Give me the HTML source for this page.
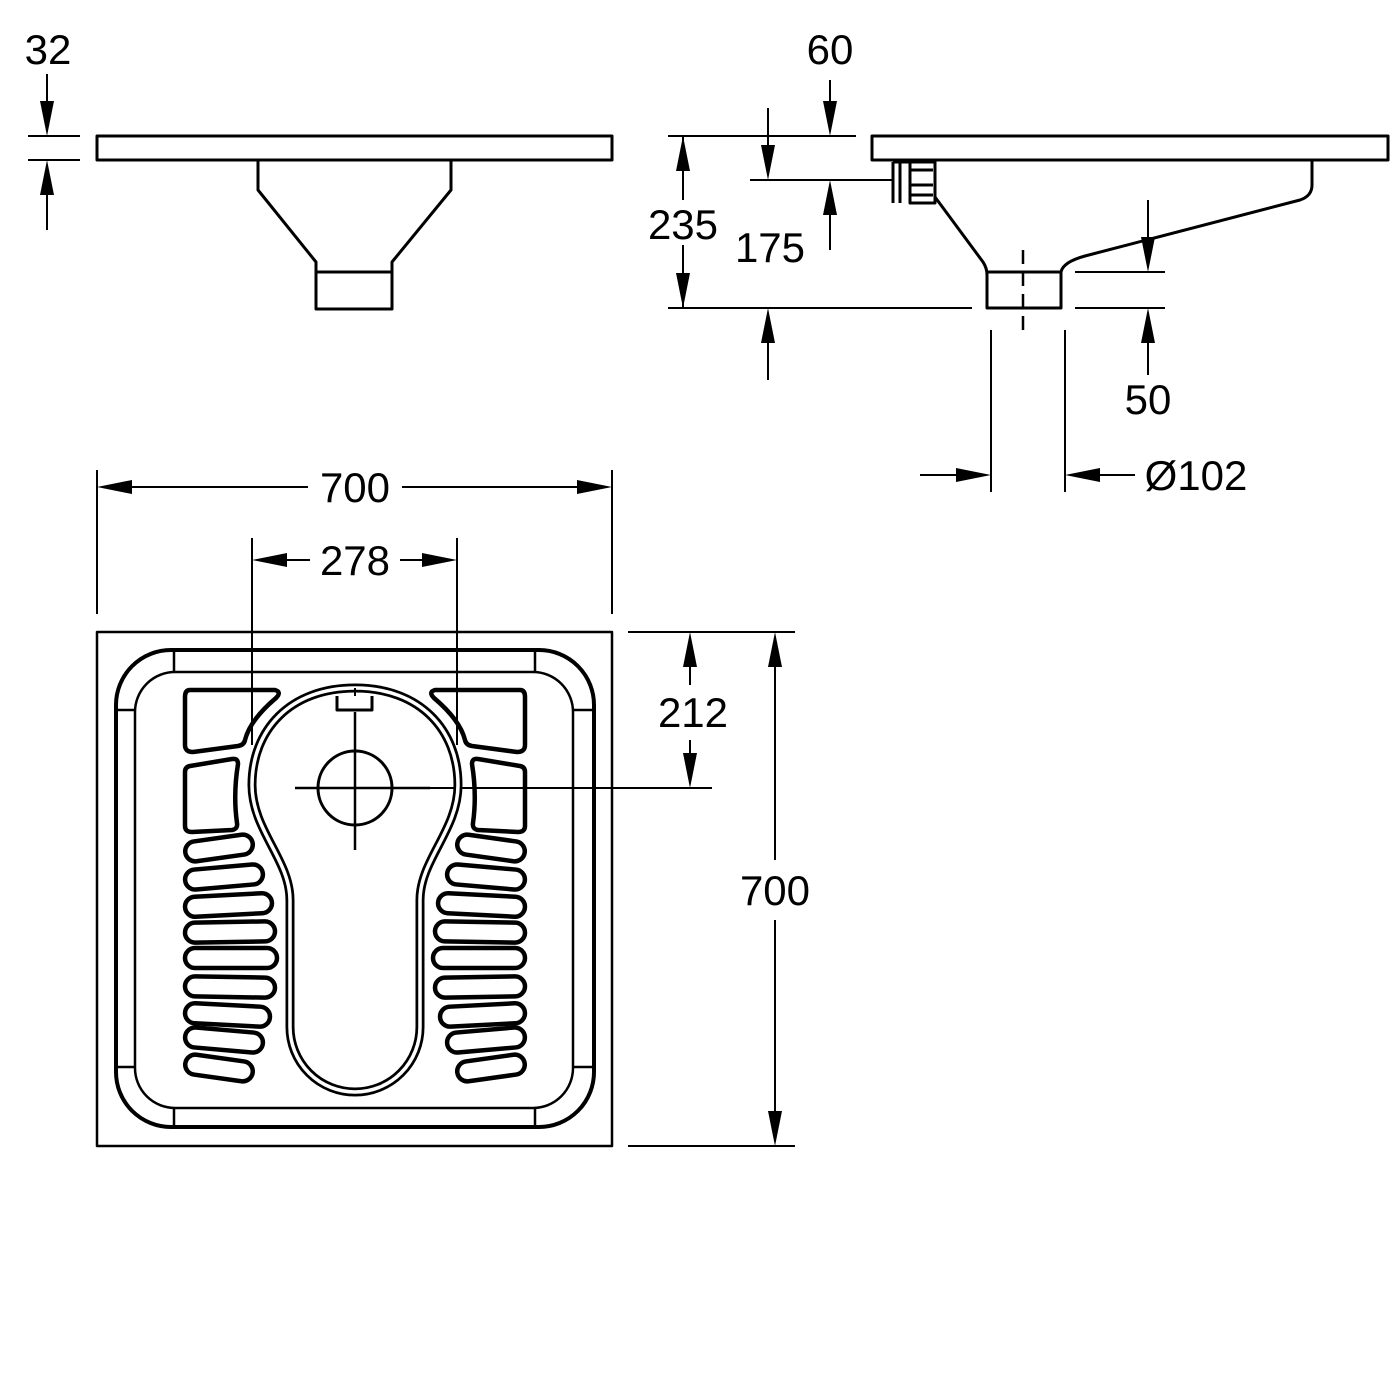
<!DOCTYPE html>
<html><head><meta charset="utf-8"><style>
html,body{margin:0;padding:0;background:#fff}
svg{display:block}
text{font-family:"Liberation Sans",sans-serif;font-size:42px;fill:#000}
</style></head><body>
<svg width="1400" height="1400" viewBox="0 0 1400 1400" xmlns="http://www.w3.org/2000/svg">
<g fill="none" stroke="#000" stroke-width="3" stroke-linejoin="round">
<!-- top-left view -->
<rect x="97" y="136" width="515" height="24"/>
<path d="M258 161 V190 L316 262 V309 H392 V262 L451 190 V161"/>
<line x1="316" y1="272" x2="392" y2="272"/>
<!-- 32 dim -->
<line x1="28" y1="136" x2="80" y2="136" stroke-width="2"/>
<line x1="28" y1="160" x2="80" y2="160" stroke-width="2"/>
<line x1="47" y1="74" x2="47" y2="110" stroke-width="2"/>
<line x1="47" y1="190" x2="47" y2="230" stroke-width="2"/>

<!-- top-right view -->
<rect x="872" y="136" width="516" height="24"/>
<path d="M935 161 V197 L983 262 Q987 268 987 275 V308 H1061 V272 Q1063 262 1085 256 L1300 200 Q1312 196 1312 185 V161"/>
<line x1="987" y1="272" x2="1061" y2="272"/>
<path d="M893 162 V203 M900 162 V203 M910 162 V203 H935 V162 H893 M910 170 H933 M910 185 H933 M910 195 H933"/>
<line x1="1023" y1="250" x2="1023" y2="332" stroke-dasharray="14,8" stroke-width="2.5"/>
<!-- 235 / 60 / 175 dims -->
<line x1="668" y1="136" x2="856" y2="136" stroke-width="2"/>
<line x1="668" y1="308" x2="972" y2="308" stroke-width="2"/>
<line x1="683" y1="136" x2="683" y2="200" stroke-width="2"/>
<line x1="683" y1="245" x2="683" y2="308" stroke-width="2"/>
<line x1="830" y1="80" x2="830" y2="110" stroke-width="2"/>
<line x1="768" y1="108" x2="768" y2="150" stroke-width="2"/>
<line x1="750" y1="180" x2="893" y2="180" stroke-width="2"/>
<line x1="830" y1="210" x2="830" y2="250" stroke-width="2"/>
<line x1="768" y1="340" x2="768" y2="380" stroke-width="2"/>
<!-- 50 dims -->
<line x1="1075" y1="272" x2="1165" y2="272" stroke-width="2"/>
<line x1="1075" y1="308" x2="1165" y2="308" stroke-width="2"/>
<line x1="1148" y1="200" x2="1148" y2="240" stroke-width="2"/>
<line x1="1148" y1="340" x2="1148" y2="375" stroke-width="2"/>
<!-- Ø102 -->
<line x1="991" y1="330" x2="991" y2="492" stroke-width="2"/>
<line x1="1065" y1="330" x2="1065" y2="492" stroke-width="2"/>
<line x1="920" y1="475" x2="960" y2="475" stroke-width="2"/>
<line x1="1095" y1="475" x2="1135" y2="475" stroke-width="2"/>

<!-- plan dims -->
<line x1="97" y1="470" x2="97" y2="614" stroke-width="2"/>
<line x1="612" y1="470" x2="612" y2="614" stroke-width="2"/>
<line x1="130" y1="487" x2="308" y2="487" stroke-width="2"/>
<line x1="402" y1="487" x2="580" y2="487" stroke-width="2"/>
<line x1="252" y1="538" x2="252" y2="745" stroke-width="2"/>
<line x1="457" y1="538" x2="457" y2="745" stroke-width="2"/>
<line x1="285" y1="560" x2="310" y2="560" stroke-width="2"/>
<line x1="400" y1="560" x2="425" y2="560" stroke-width="2"/>
<line x1="628" y1="632" x2="795" y2="632" stroke-width="2"/>
<line x1="628" y1="1146" x2="795" y2="1146" stroke-width="2"/>
<line x1="430" y1="788" x2="712" y2="788" stroke-width="2"/>
<line x1="690" y1="665" x2="690" y2="685" stroke-width="2"/>
<line x1="690" y1="740" x2="690" y2="755" stroke-width="2"/>
<line x1="775" y1="665" x2="775" y2="860" stroke-width="2"/>
<line x1="775" y1="920" x2="775" y2="1112" stroke-width="2"/>

<!-- plan view -->
<rect x="97" y="632" width="515" height="514" stroke-width="2.5"/>
<rect x="116" y="650" width="478" height="477" rx="55" stroke-width="4"/>
<rect x="135" y="672" width="438" height="436" rx="40" stroke-width="2.5"/>
<path d="M174 652 V672 M535 652 V672 M174 1108 V1126 M535 1108 V1126 M118 710 H135 M573 710 H592 M118 1067 H135 M573 1067 H592" stroke-width="2.5"/>
<!-- keyhole double line -->
<path d="M355 688 C420 688 458 730 458 785 C458 830 420 860 420 900 V1027 A65 65 0 0 1 290 1027 V900 C290 860 252 830 252 785 C252 730 290 688 355 688 Z" stroke-width="9"/>
<path d="M355 688 C420 688 458 730 458 785 C458 830 420 860 420 900 V1027 A65 65 0 0 1 290 1027 V900 C290 860 252 830 252 785 C252 730 290 688 355 688 Z" stroke="#fff" stroke-width="3.5"/>
<path d="M337 696 V710 H372 V696" stroke-width="3"/>
<line x1="355" y1="688" x2="355" y2="696" stroke-width="2"/>
<circle cx="355" cy="788" r="37" stroke-width="3"/>
<path d="M355 712 V850 M295 788 H413 M430 788 H410" stroke-width="2.5"/>
<!-- pads -->
<g stroke-width="4.5">
<path d="M190 690 H275 Q282 692 276 698 Q250 720 245 740 Q244 745 238 746 L193 752 Q185 752 185 745 V697 Q185 690 190 690 Z"/>
<path d="M190 766 L232 759 Q238 758 238 764 Q233 795 237 823 Q238 829 232 830 L192 832 Q185 832 185 826 V772 Q185 767 190 766 Z"/>
<g id="L">
<rect x="185" y="838" width="68" height="20" rx="10" transform="rotate(-8 219 848)"/>
<rect x="185" y="867" width="78" height="20" rx="10" transform="rotate(-5 224 877)"/>
<rect x="185" y="895" width="87" height="20" rx="10" transform="rotate(-3 228 905)"/>
<rect x="185" y="922" width="90" height="20" rx="10" transform="rotate(-1 230 932)"/>
<rect x="185" y="948" width="92" height="20" rx="10"/>
<rect x="185" y="977" width="90" height="20" rx="10" transform="rotate(1 230 987)"/>
<rect x="185" y="1005" width="85" height="20" rx="10" transform="rotate(3 228 1015)"/>
<rect x="185" y="1030" width="78" height="20" rx="10" transform="rotate(5 224 1040)"/>
<rect x="185" y="1058" width="68" height="20" rx="10" transform="rotate(8 219 1068)"/>
</g>
<use href="#L" transform="translate(710 0) scale(-1 1)"/>
<path d="M190 690 H275 Q282 692 276 698 Q250 720 245 740 Q244 745 238 746 L193 752 Q185 752 185 745 V697 Q185 690 190 690 Z" transform="translate(710 0) scale(-1 1)"/>
<path d="M190 766 L232 759 Q238 758 238 764 Q233 795 237 823 Q238 829 232 830 L192 832 Q185 832 185 826 V772 Q185 767 190 766 Z" transform="translate(710 0) scale(-1 1)"/>
</g>
</g>

<!-- arrowheads -->
<g fill="#000">
<polygon points="47,136 40,101 54,101"/>
<polygon points="47,160 40,195 54,195"/>
<polygon points="830,136 823,101 837,101"/>
<polygon points="683,136 676,171 690,171"/>
<polygon points="683,308 676,273 690,273"/>
<polygon points="768,180 761,145 775,145"/>
<polygon points="830,180 823,215 837,215"/>
<polygon points="768,308 761,343 775,343"/>
<polygon points="1148,272 1141,237 1155,237"/>
<polygon points="1148,308 1141,343 1155,343"/>
<polygon points="991,475 956,468 956,482"/>
<polygon points="1065,475 1100,468 1100,482"/>
<polygon points="97,487 132,480 132,494"/>
<polygon points="612,487 577,480 577,494"/>
<polygon points="252,560 287,553 287,567"/>
<polygon points="457,560 422,553 422,567"/>
<polygon points="690,632 683,667 697,667"/>
<polygon points="690,788 683,753 697,753"/>
<polygon points="775,632 768,667 782,667"/>
<polygon points="775,1146 768,1111 782,1111"/>
</g>

<g text-anchor="middle">
<text x="48" y="64">32</text>
<text x="830" y="64">60</text>
<text x="683" y="239">235</text>
<text x="770" y="262">175</text>
<text x="1148" y="414">50</text>
<text x="1196" y="490">Ø102</text>
<text x="355" y="502">700</text>
<text x="355" y="575">278</text>
<text x="693" y="727">212</text>
<text x="775" y="905">700</text>
</g>
</svg>
</body></html>
